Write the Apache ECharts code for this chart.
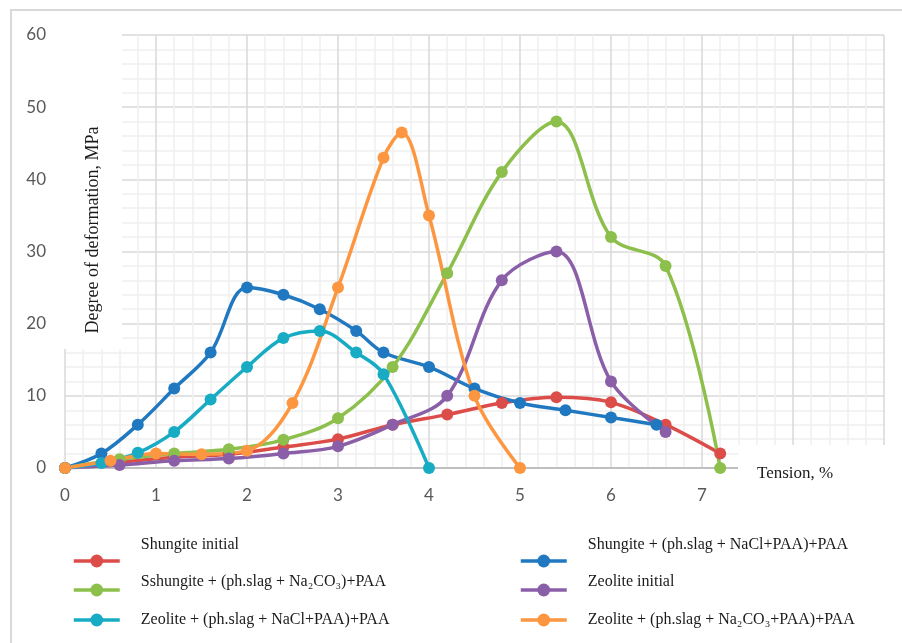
<!DOCTYPE html>
<html>
<head>
<meta charset="utf-8">
<script src="https://cdn.jsdelivr.net/npm/echarts@6/dist/echarts.min.js"></script>
<style>
html,body{margin:0;padding:0;background:#fff;}
#chart{width:902px;height:643px;}
</style>
</head>
<body>
<div id="chart"></div>
<script>
// ---- tick labels ----
const xTickLabels = ['0', '1', '2', '3', '4', '5', '6', '7'];
const yTickLabels = ['0', '10', '20', '30', '40', '50', '60'];

// ---- series names ----
const seriesNames = [
  'Shungite initial',
  'Shungite + (ph.slag + NaCl+PAA)+PAA',
  'Sshungite + (ph.slag + Na₂CO₃)+PAA',
  'Zeolite initial',
  'Zeolite + (ph.slag + NaCl+PAA)+PAA',
  'Zeolite + (ph.slag + Na₂CO₃+PAA)+PAA'
];

// ---- series values (tension %, deformation MPa) ----
const shungiteInitialX = [0, 0.6, 1.2, 1.8, 2.4, 3.0, 3.6, 4.2, 4.8, 5.4, 6.0, 6.6, 7.2];
const shungiteInitialY = [0, 0.8, 1.5, 1.9, 2.9, 4.0, 6.0, 7.4, 9.0, 9.8, 9.1, 6.0, 2.0];

const shungiteNaClX = [0, 0.4, 0.8, 1.2, 1.6, 2.0, 2.4, 2.8, 3.2, 3.5, 4.0, 4.5, 5.0, 5.5, 6.0, 6.5];
const shungiteNaClY = [0, 2, 6, 11, 16, 25, 24, 22, 19, 16, 14, 11, 9, 8, 7, 6];

const shungiteNa2CO3X = [0, 0.6, 1.2, 1.8, 2.4, 3.0, 3.6, 4.2, 4.8, 5.4, 6.0, 6.6, 7.2];
const shungiteNa2CO3Y = [0, 1.2, 2.0, 2.6, 3.9, 6.9, 14, 27, 41, 48, 32, 28, 0];

const zeoliteInitialX = [0, 0.6, 1.2, 1.8, 2.4, 3.0, 3.6, 4.2, 4.8, 5.4, 6.0, 6.6];
const zeoliteInitialY = [0, 0.4, 1.0, 1.3, 2.0, 3.0, 6.0, 10, 26, 30, 12, 5];

const zeoliteNaClX = [0, 0.4, 0.8, 1.2, 1.6, 2.0, 2.4, 2.8, 3.2, 3.5, 4.0];
const zeoliteNaClY = [0, 0.7, 2.1, 5, 9.5, 14, 18, 19, 16, 13, 0];

const zeoliteNa2CO3X = [0, 0.5, 1.0, 1.5, 2.0, 2.5, 3.0, 3.5, 3.7, 4.0, 4.5, 5.0];
const zeoliteNa2CO3Y = [0, 1, 2, 1.9, 2.4, 9, 25, 43, 46.5, 35, 10, 0];

const seriesX = [shungiteInitialX, shungiteNaClX, shungiteNa2CO3X, zeoliteInitialX, zeoliteNaClX, zeoliteNa2CO3X];
const seriesY = [shungiteInitialY, shungiteNaClY, shungiteNa2CO3Y, zeoliteInitialY, zeoliteNaClY, zeoliteNa2CO3Y];
const colors = ['#dc4d4a', '#2079c0', '#8cbf4b', '#8a5fa8', '#17abc4', '#fd9640'];

const chart = echarts.init(document.getElementById('chart'), null, {renderer: 'canvas'});

const series = seriesNames.map((name, i) => ({
  name: name,
  type: 'line',
  smooth: 0.35,
  symbol: 'circle',
  symbolSize: 12,
  showSymbol: true,
  data: seriesX[i].map((x, j) => [x, seriesY[i][j]]),
  lineStyle: {color: colors[i], width: 3.5},
  itemStyle: {color: colors[i]},
  emphasis: {disabled: true},
  animation: false,
  z: 2
}));

// legend layout: [series index, left, icon centre y, text raise]
// the text line sits "raise" px above the icon centre (two-line block trick)
const legendSlots = [
  [0, 72, 561, 16],
  [2, 72, 590, 8],
  [4, 72, 620, 0],
  [1, 519, 561, 16],
  [3, 519, 590, 8],
  [5, 519, 620, 0]
];
const legends = legendSlots.map(s => {
  const raise = s[3];
  const twoLine = raise > 0;
  const lh = twoLine ? raise * 2 : 16;
  const blockH = twoLine ? lh * 2 : 16;
  return {
    data: [seriesNames[s[0]]],
    left: s[1],
    top: s[2] - Math.max(blockH, 16) / 2,
    padding: 0,
    orient: 'vertical',
    itemWidth: 46,
    itemHeight: 16,
    selectedMode: false,
    lineStyle: {width: 3.5},
    formatter: name => (twoLine ? '    ' + name + '\n ' : '    ' + name),
    textStyle: {
      fontFamily: 'Liberation Serif',
      fontSize: 16,
      lineHeight: lh,
      color: '#1a1a1a'
    }
  };
});

const option = {
  backgroundColor: '#ffffff',
  animation: false,
  color: colors,
  grid: {left: 65, right: 18, top: 35, bottom: 175, containLabel: false},
  xAxis: {
    type: 'value',
    min: 0, max: 9, interval: 1,
    axisLine: {show: true, lineStyle: {color: '#bfbfbf', width: 2}},
    axisTick: {show: false},
    minorTick: {show: false, splitNumber: 5},
    axisLabel: {
      margin: 19,
      fontFamily: 'Lato',
      fontSize: 17,
      color: '#595959',
      formatter: v => (xTickLabels[Math.round(v)] !== undefined ? xTickLabels[Math.round(v)] : '')
    },
    splitLine: {show: true, lineStyle: {color: '#d9d9d9', width: 1.5}},
    minorSplitLine: {show: true, lineStyle: {color: '#efefef', width: 1.5}}
  },
  yAxis: {
    type: 'value',
    min: 0, max: 60, interval: 10,
    axisLine: {show: false},
    axisTick: {show: false},
    minorTick: {show: false, splitNumber: 5},
    axisLabel: {
      margin: 19,
      fontFamily: 'Lato',
      fontSize: 17,
      color: '#595959',
      formatter: v => (yTickLabels[Math.round(v / 10)] !== undefined ? yTickLabels[Math.round(v / 10)] : '')
    },
    splitLine: {show: true, lineStyle: {color: '#d9d9d9', width: 1.5}},
    minorSplitLine: {show: true, lineStyle: {color: '#efefef', width: 1.5}}
  },
  legend: legends,
  graphic: {
    elements: [
      {type: 'rect', z: 1, silent: true, shape: {x: 11, y: 10, width: 1000, height: 1000},
       style: {fill: 'none', stroke: '#d9d9d9', lineWidth: 2}},
      {type: 'rect', z: 1, silent: true, shape: {x: 62, y: 30, width: 60, height: 319},
       style: {fill: '#ffffff'}},
      {type: 'rect', z: 1, silent: true, shape: {x: 738, y: 445, width: 160, height: 60},
       style: {fill: '#ffffff'}},
      {type: 'text', z: 3, silent: true, x: 93, y: 230, rotation: Math.PI / 2,
       style: {text: 'Degree of deformation, MPa', align: 'center', verticalAlign: 'middle',
               font: '18px "Liberation Serif"', fill: '#1a1a1a'}},
      {type: 'text', z: 3, silent: true, x: 757, y: 474,
       style: {text: 'Tension, %', align: 'left', verticalAlign: 'middle',
               font: '17px "Liberation Serif"', fill: '#1a1a1a'}}
    ]
  },
  series: series
};
chart.setOption(option);
</script>
</body>
</html>
